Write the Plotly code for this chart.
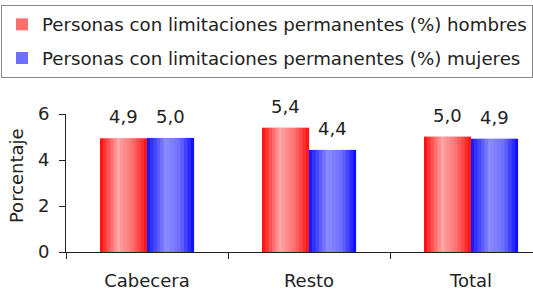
import plotly.graph_objects as go

categories = ["Cabecera", "Resto", "Total"]
hombres = [4.94, 5.40, 5.01]
mujeres = [4.96, 4.44, 4.92]
series_names = ["Personas con limitaciones permanentes (%) hombres",
                "Personas con limitaciones permanentes (%) mujeres"]
y_ticks = [0, 2, 4, 6]
y_title = "Porcentaje"

FONT = "DejaVu Sans"
FS = 18
BAR_W = 0.29
N_STRIPS = 14
W, H = 533, 292
M_L, M_R, M_T, M_B = 66, 0, 114, 40
PLOT_W = W - M_L - M_R
PLOT_H = H - M_T - M_B
X_RANGE = [-0.5, -0.5 + PLOT_W / 162]
PX_PER_CAT = PLOT_W / (X_RANGE[1] - X_RANGE[0])


def grad(stops, t):
    for (t0, c0), (t1, c1) in zip(stops, stops[1:]):
        if t0 <= t <= t1:
            f = (t - t0) / (t1 - t0) if t1 > t0 else 0
            return "rgb(%d,%d,%d)" % tuple(round(a + (b - a) * f) for a, b in zip(c0, c1))
    return "rgb(%d,%d,%d)" % stops[-1][1]


red_stops = [(0, (255, 5, 5)), (0.38, (255, 168, 168)), (0.7, (255, 110, 110)), (1, (255, 10, 10))]
blue_stops = [(0, (15, 15, 255)), (0.4, (140, 140, 255)), (0.7, (110, 110, 255)), (1, (5, 5, 255))]

fig = go.Figure()
specs = [(hombres, series_names[0], -BAR_W, red_stops, "rgb(255,110,110)"),
         (mujeres, series_names[1], 0.0, blue_stops, "rgb(110,110,255)")]

annotations = []
for vals, name, off, stops, base in specs:
    fig.add_trace(go.Bar(
        x=categories, y=vals, name=name, legendgroup=name,
        width=BAR_W, offset=off, marker=dict(color=base, line=dict(width=0)),
    ))
    sw = BAR_W / N_STRIPS
    for i in range(N_STRIPS):
        t = (i + 0.5) / N_STRIPS
        fig.add_trace(go.Bar(
            x=categories, y=vals, width=sw * 1.04, offset=off + i * sw,
            marker=dict(color=grad(stops, t), line=dict(width=0)),
            showlegend=False, hoverinfo="skip", legendgroup=name,
        ))
    for c, v in zip(categories, vals):
        annotations.append(dict(
            x=c, y=v, xref="x", yref="y", text=f"{v:.1f}".replace(".", ","),
            showarrow=False, yanchor="bottom", xanchor="center",
            xshift=(off + BAR_W / 2) * PX_PER_CAT, yshift=9,
            font=dict(family=FONT, size=FS, color="#222"),
        ))

# y-axis title
annotations.append(dict(
    text=y_title, xref="paper", yref="paper", x=(16 - M_L) / PLOT_W, y=0.55,
    textangle=-90, showarrow=False, xanchor="center", yanchor="middle",
    font=dict(family=FONT, size=FS, color="#222"),
))

fig.update_layout(
    width=W, height=H,
    margin=dict(l=M_L, r=M_R, t=M_T, b=M_B, autoexpand=False),
    barmode="overlay",
    separators=",.",
    paper_bgcolor="white", plot_bgcolor="white",
    font=dict(family=FONT, size=FS, color="#222"),
    showlegend=True,
    annotations=annotations,
    legend=dict(
        xref="container", yref="container",
        x=1 / W, y=1 - 5 / H, xanchor="left", yanchor="top",
        bgcolor="white", bordercolor="#888", borderwidth=1,
        font=dict(family=FONT, size=18.2, color="#222"),
        tracegroupgap=7, traceorder="grouped",
    ),
    xaxis=dict(
        range=X_RANGE, showline=True, linecolor="#222", linewidth=1,
        ticks="outside", tickson="boundaries", ticklen=6, tickcolor="#222",
        ticklabelstandoff=12, showgrid=False, automargin=False,
        tickfont=dict(family=FONT, size=FS, color="#222"),
    ),
    yaxis=dict(
        range=[0, 6], tickvals=y_ticks, showline=True, linecolor="#222", linewidth=1,
        ticks="outside", ticklen=6, tickcolor="#222", showgrid=False, zeroline=False,
        automargin=False, ticklabelstandoff=6,
        tickfont=dict(family=FONT, size=FS, color="#222"),
    ),
)

fig.write_html("out.html", config={"displayModeBar": False},
               post_script="document.body.style.margin='0';document.body.style.overflow='hidden';")
